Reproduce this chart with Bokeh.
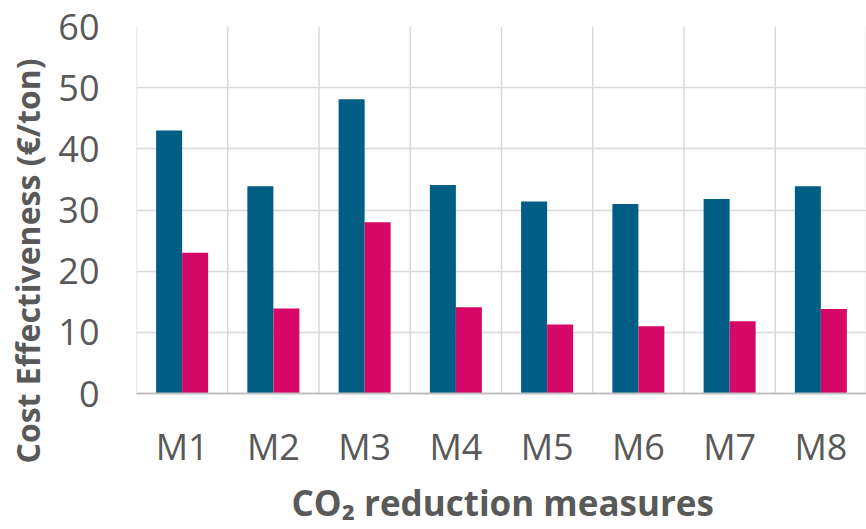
from bokeh.plotting import figure
from bokeh.models import ColumnDataSource, Span, FactorRange, Range1d, Title
from bokeh.transform import dodge
from bokeh.embed import file_html
from bokeh.resources import INLINE

measures = ["M1", "M2", "M3", "M4", "M5", "M6", "M7", "M8"]
series_a = [43.0, 33.9, 48.1, 34.1, 31.4, 31.0, 31.8, 33.9]
series_b = [23.0, 13.9, 28.0, 14.1, 11.3, 11.0, 11.8, 13.8]
y_ticks = [0, 10, 20, 30, 40, 50, 60]
x_title = "CO₂ reduction measures"
y_title = "Cost Effectiveness (€/ton)"

BLUE = "#005E84"
MAGENTA = "#D50868"
TEXT = "#595959"
GRID = "#D9D9D9"
FONT = "Open Sans"

src = ColumnDataSource(data=dict(m=measures, a=series_a, b=series_b))

p = figure(x_range=FactorRange(*measures, range_padding=0), y_range=Range1d(0, 60),
           width=866, height=529, output_backend="svg", toolbar_location=None,
           min_border_left=136, min_border_right=0, min_border_top=26, min_border_bottom=136)
p.outline_line_color = None
p.background_fill_color = "white"

bw = 0.285
p.vbar(x=dodge("m", -bw / 2, range=p.x_range), top="a", width=bw, source=src,
       fill_color=BLUE, line_color=None)
p.vbar(x=dodge("m", bw / 2, range=p.x_range), top="b", width=bw, source=src,
       fill_color=MAGENTA, line_color=None)

p.xgrid.grid_line_color = None
p.ygrid.grid_line_color = GRID
p.ygrid.grid_line_width = 1.5
p.ygrid.ticker = y_ticks
p.yaxis.ticker = y_ticks

for k in range(len(measures) + 1):
    p.add_layout(Span(location=k, dimension="height", line_color=GRID, line_width=1.5, level="underlay"))

for ax in (p.xaxis, p.yaxis):
    ax.major_tick_line_color = None
    ax.minor_tick_line_color = None
    ax.major_label_text_font = FONT
    ax.major_label_text_font_size = "36px"
    ax.major_label_text_color = TEXT

p.yaxis.axis_line_color = None
p.xaxis.axis_line_color = "#BFBFBF"
p.xaxis.axis_line_width = 2
p.yaxis.major_label_standoff = 31
p.xaxis.major_label_standoff = 22

xt = Title(text=x_title, align="left", offset=155, vertical_align="bottom", standoff=7,
           text_font=FONT, text_font_style="bold", text_font_size="35px", text_color=TEXT)
p.add_layout(xt, "below")

yt = Title(text=y_title, align="left", offset=-70, vertical_align="top", standoff=10,
           text_font=FONT, text_font_style="bold", text_font_size="32px", text_color=TEXT)
p.add_layout(yt, "left")

open("out.html", "w").write(file_html(p, INLINE))
